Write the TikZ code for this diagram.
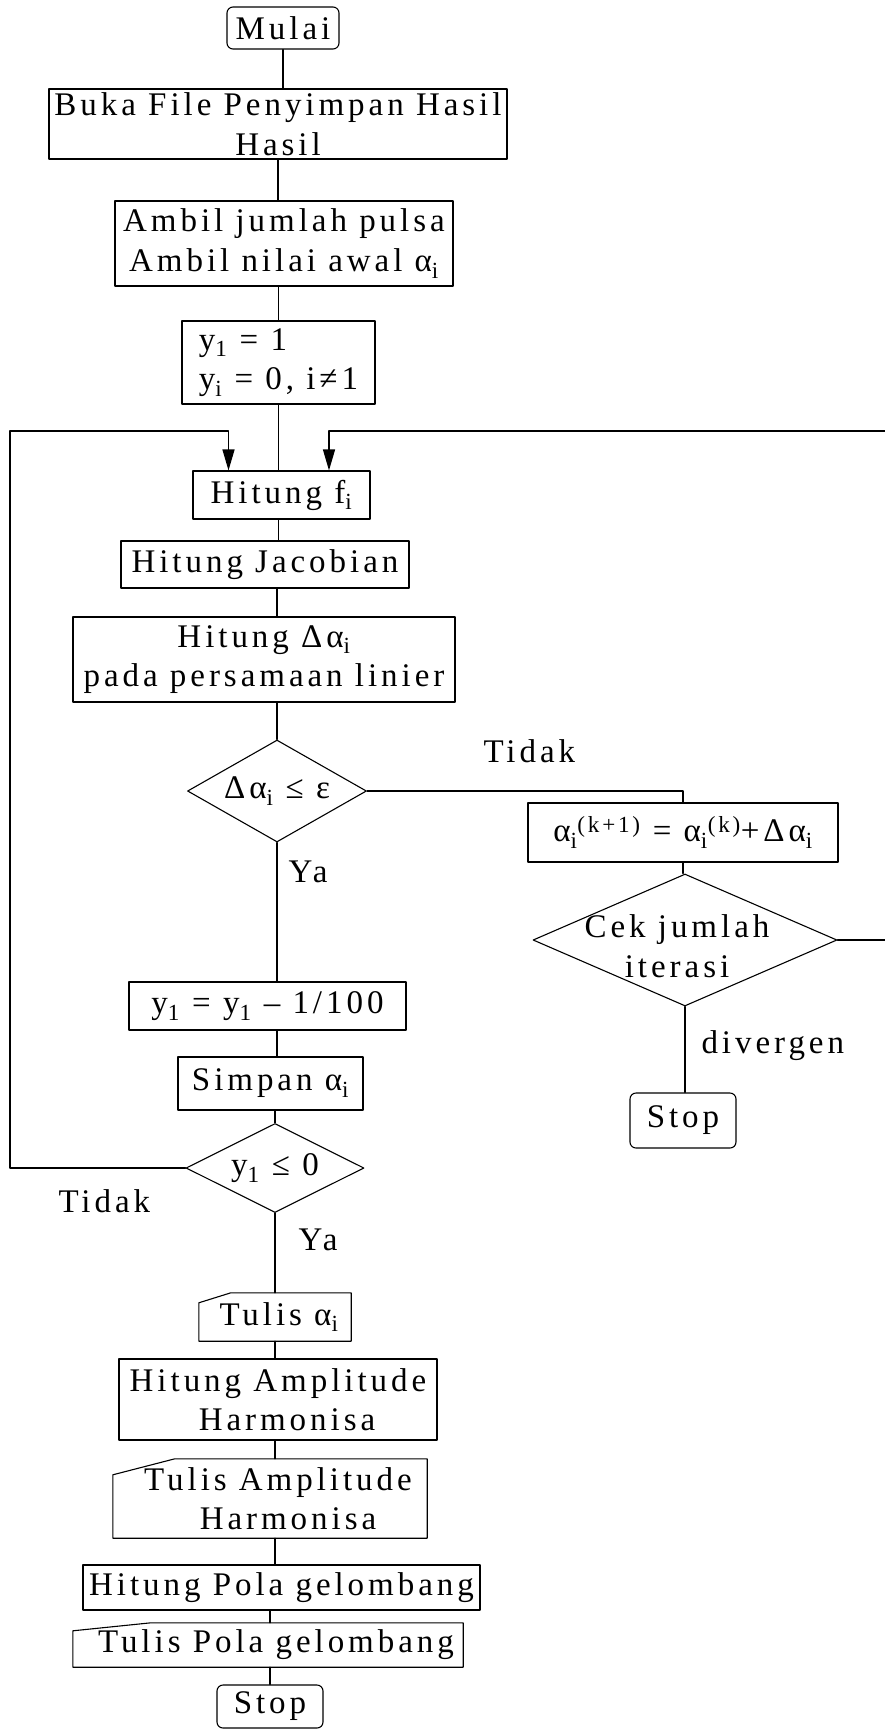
\documentclass[tikz,border=0pt]{standalone}
\usepackage{fontspec}
\setmainfont[LetterSpace=12]{Liberation Serif}
\usetikzlibrary{shapes.geometric,arrows.meta}

\newcommand{\kertas}[3]{\draw[garis] ([yshift=-#3pt]#1.north west) -- ([xshift=#2pt]#1.north west) -- (#1.north east) -- (#1.south east) -- (#1.south west) -- cycle;}

\begin{document}
\begin{tikzpicture}[line cap=round,line join=round,x=1pt,y=-1pt,
	font=\fontsize{33}{39.5}\selectfont,
	garis/.style={line width=1.1pt},
	proses/.style={draw,line width=1.1pt,inner sep=0pt,align=center},
	terminal/.style={proses,rounded corners=6pt},
	keluar/.style={inner sep=0pt,align=center},
	cabang/.style={draw,line width=1.1pt,diamond,inner sep=0pt,align=center},
	balik/.style={line width=1.3pt,-{Triangle[length=21pt,width=12pt]}}]
		\useasboundingbox (0,0) rectangle (885,1729);
		\node[terminal,minimum width=112pt,minimum height=42pt] (mulai) at (283,28) {Mulai};
		\node[proses,minimum width=458pt,minimum height=70pt] (buka) at (278,124) {Buka File Penyimpan Hasil\\Hasil};
		\node[proses,minimum width=338pt,minimum height=85pt] (ambil) at (284,243.5) {Ambil jumlah pulsa\\Ambil nilai awal α\textsubscript{i}};
		\node[proses,align=left,minimum width=193pt,minimum height=83pt] (awal) at (278.5,362.5) {y\textsubscript{1} = 1\\y\textsubscript{i} = 0, i≠1};
		\node[proses,minimum width=177pt,minimum height=48pt] (fi) at (281.5,495) {Hitung f\textsubscript{i}};
		\node[proses,minimum width=288pt,minimum height=47pt] (jacobian) at (265,564.5) {Hitung Jacobian};
		\node[proses,minimum width=382pt,minimum height=85pt] (delta) at (264,659.5) {Hitung Δα\textsubscript{i}\\pada persamaan linier};
		\node[cabang,minimum width=179pt,minimum height=102pt] (konvergen) at (277,791) {\makebox[0pt]{Δα\textsubscript{i} ≤ ε}};
		\node[proses,minimum width=310pt,minimum height=59pt] (update) at (683,832.5) {α\textsubscript{i}\textsuperscript{(k+1)} = α\textsubscript{i}\textsuperscript{(k)}+Δα\textsubscript{i}};
		\node[cabang,minimum width=304pt,minimum height=132pt] (iterasi) at (685,940) {\makebox[0pt]{\raisebox{-6pt}[\height][\depth]{Cek jumlah}\hspace{16pt}}\\\makebox[0pt]{\raisebox{-6pt}[\height][\depth]{iterasi}\hspace{16pt}}};
		\node[terminal,minimum width=106pt,minimum height=55pt] (stopdiv) at (683,1120.5) {Stop};
		\node[proses,minimum width=277pt,minimum height=48pt] (turun) at (267.5,1006) {y\textsubscript{1} = y\textsubscript{1} – 1/100};
		\node[proses,minimum width=185pt,minimum height=53pt] (simpan) at (270.5,1083.5) {Simpan α\textsubscript{i}};
		\node[cabang,minimum width=178pt,minimum height=89pt] (habis) at (275,1168) {\makebox[0pt]{y\textsubscript{1} ≤ 0}};
		\node[keluar,minimum width=152pt,minimum height=48pt] (tulisalfa) at (275,1317) {\hspace*{8pt}Tulis α\textsubscript{i}};
		\node[proses,minimum width=318pt,minimum height=81pt] (amplitudo) at (278,1399.5) {Hitung Amplitude\\\hspace*{18pt}Harmonisa};
		\node[keluar,minimum width=314pt,minimum height=79pt] (tulisamp) at (270,1498.5) {\hspace*{16pt}Tulis Amplitude\\\hspace*{36pt}Harmonisa};
		\node[proses,minimum width=397pt,minimum height=45pt] (pola) at (281.5,1587.5) {Hitung Pola gelombang};
		\node[keluar,minimum width=390pt,minimum height=44pt] (tulispola) at (268,1645) {\hspace*{16pt}Tulis Pola gelombang};
		\node[terminal,minimum width=106pt,minimum height=43pt] (stop) at (270,1706.5) {Stop};
		\kertas{tulisalfa}{32}{10}
		\kertas{tulisamp}{62}{16}
		\kertas{tulispola}{78}{8}
		\draw[garis] (mulai.south) -- (mulai.south |- buka.north);
		\draw[garis] (buka.south) -- (buka.south |- ambil.north);
		\draw[garis] (ambil.south -| awal.north) -- (awal.north);
		\draw[garis] (awal.south) -- (awal.south |- fi.north);
		\draw[garis] (fi.south -| awal.south) -- (jacobian.north -| awal.south);
		\draw[garis] (jacobian.south -| konvergen.north) -- (delta.north -| konvergen.north);
		\draw[garis] (delta.south -| konvergen.north) -- (konvergen.north);
		\draw[garis] (konvergen.south) -- (konvergen.south |- turun.north);
		\draw[garis] (turun.south -| konvergen.south) -- (simpan.north -| konvergen.south);
		\draw[garis] (simpan.south -| habis.north) -- (habis.north);
		\draw[garis] (habis.south) -- (habis.south |- tulisalfa.north);
		\draw[garis] (tulisalfa.south) -- (tulisalfa.south |- amplitudo.north);
		\draw[garis] (amplitudo.south -| tulisalfa.south) -- (tulisamp.north -| tulisalfa.south);
		\draw[garis] (tulisamp.south -| tulisalfa.south) -- (pola.north -| tulisalfa.south);
		\draw[garis] (pola.south -| stop.north) -- (tulispola.north -| stop.north);
		\draw[garis] (tulispola.south -| stop.north) -- (stop.north);
		\draw[garis] (konvergen.east) -| (update.north);
		\draw[garis] (update.south) -- (update.south |- iterasi.north);
		\draw[garis] (iterasi.south) -- (iterasi.south |- stopdiv.north);
		\coordinate (kiri) at (10,431);
		\coordinate (kanan) at (886,431);
		\draw[balik] (habis.west) -| (kiri) -| ([xshift=-53pt]fi.north);
		\draw[balik] (iterasi.east) -| (kanan) -| ([xshift=47.5pt]fi.north);
		\node[anchor=base west] (tidakkanan) at (480,762) {Tidak};
		\node[anchor=base west] (yaatas) at (285,882) {Ya};
		\node[anchor=base west] (divergen) at (698,1053) {divergen};
		\node[anchor=base west] (tidakkiri) at (55,1212) {Tidak};
		\node[anchor=base west] (yabawah) at (295,1250) {Ya};
	\end{tikzpicture}
\end{document}
